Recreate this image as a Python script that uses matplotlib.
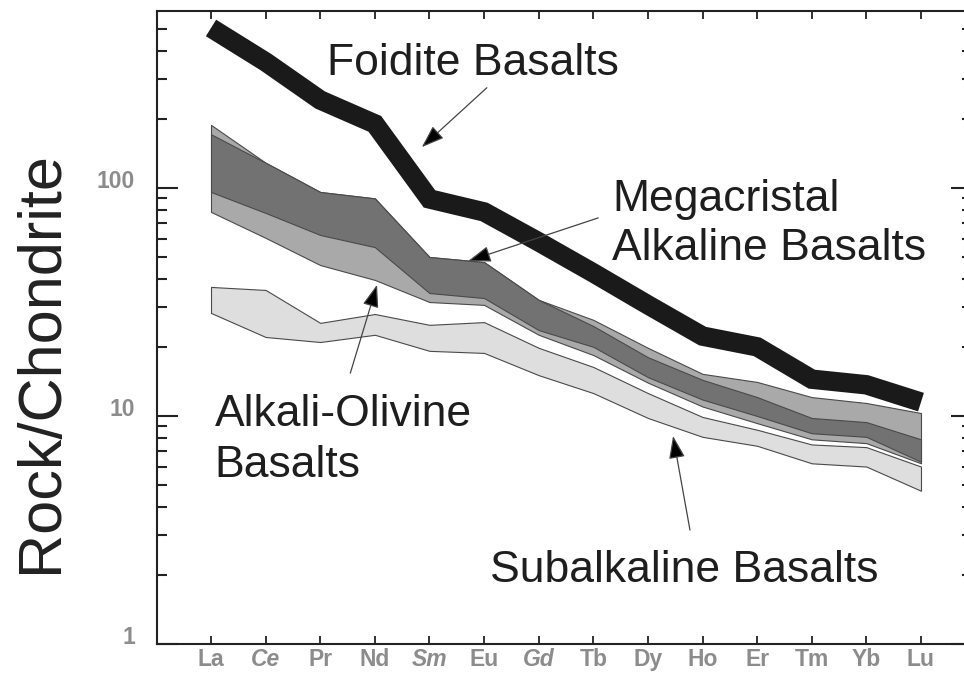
import numpy as np
import matplotlib.pyplot as plt
import matplotlib.transforms as mtransforms
from matplotlib.ticker import NullFormatter

plt.rcParams['font.family'] = ['Liberation Sans', 'DejaVu Sans']

# REE pattern, chondrite normalised
elements = ["La", "Ce", "Pr", "Nd", "Sm", "Eu", "Gd", "Tb", "Dy", "Ho", "Er", "Tm", "Yb", "Lu"]
italic_elements = ["Ce", "Sm", "Gd"]

foidite = [503, 357, 243, 191, 89.5, 78.5, 58, 42.4, 30.7, 22.4, 20.1, 14.5, 13.7, 11.5]

alkol_top = [189, 129, 96, 90, 49.8, 47.3, 32.3, 26.4, 19.9, 15.3, 14.1, 12.1, 11.4, 10.3]
alkol_bot = [78.5, 60.4, 45.9, 39.5, 31.6, 30.7, 22.7, 18.5, 14.0, 11.0, 9.3, 7.9, 7.6, 6.2]

mega_top = [172, 129, 96, 90, 49.8, 47.3, 32.3, 24.8, 18.1, 14.4, 12.1, 9.8, 9.4, 7.9]
mega_bot = [96, 77.7, 62.2, 55, 34.6, 32.9, 23.8, 20.1, 14.8, 11.8, 10.0, 8.4, 8.1, 6.3]

subalk_top = [36.8, 35.7, 25.6, 28, 25.1, 25.8, 19.9, 16.4, 12.6, 9.9, 8.7, 7.5, 7.3, 6.0]
subalk_bot = [28.3, 22.2, 21.1, 22.7, 19.3, 18.9, 15.1, 12.6, 9.8, 8.1, 7.4, 6.2, 6.0, 4.7]

x = np.arange(1, len(elements) + 1)

fig = plt.figure(figsize=(9.64, 6.77), dpi=100)
ax = fig.add_axes([157/964, 33/677, (972-157)/964, 633/677])

edge = '#4a4a4a'
ax.fill_between(x, subalk_bot, subalk_top, facecolor='#dedede', edgecolor=edge, linewidth=0.8)
ax.fill_between(x, alkol_bot, alkol_top, facecolor='#a9a9a9', edgecolor=edge, linewidth=0.8)
ax.fill_between(x, mega_bot, mega_top, facecolor='#727272', edgecolor=edge, linewidth=0.8)
ax.plot(x, foidite, color='#1a1a1a', lw=14, solid_capstyle='butt', solid_joinstyle='miter')

ax.set_yscale('log')
ax.set_xlim(0.011, 14.934)
ax.set_ylim(1, 597)

ax.set_xticks(x)
ax.set_xticklabels(elements)
ax.set_yticks([1, 10, 100])
ax.set_yticklabels(["1", "10", "100"])
ax.yaxis.set_minor_formatter(NullFormatter())

for lab in ax.get_xticklabels() + ax.get_yticklabels():
    lab.set_fontweight('bold')
    if lab.get_text() in italic_elements:
        lab.set_fontstyle('italic')

ax.tick_params(axis='x', direction='in', top=True, bottom=True, length=6, width=1.3,
               color='#222222', labelcolor='#8c8c8c', labelsize=16.5, pad=3)
ax.tick_params(axis='y', which='major', direction='in', left=True, right=True, length=15,
               width=1.5, color='#222222', labelcolor='#8c8c8c', labelsize=16.5, pad=16)
ax.tick_params(axis='y', which='minor', direction='in', left=True, right=True, length=7.5,
               width=1.5, color='#222222')

# y labels sit a bit above their ticks
offset = mtransforms.ScaledTranslation(0, 0.09, fig.dpi_scale_trans)
for lab in ax.get_yticklabels():
    lab.set_transform(lab.get_transform() + offset)

for s in ax.spines.values():
    s.set_linewidth(1.5)
    s.set_color('#222222')

fig.text(42/964, 1 - 362/677, "Rock/Chondrite", rotation=90, ha='center', va='center',
         fontsize=44, color='#222222')

# multi-line labels: baseline refers to the last line
txt = dict(fontsize=32, color='#1e1e1e', ha='left', va='baseline')
ax.text(3.12, 313, "Foidite Basalts", **txt)
ax.text(8.34, 48.3, "Megacristal\nAlkaline Basalts", linespacing=1.25, **txt)
ax.text(1.07, 5.40, "Alkali-Olivine\nBasalts", linespacing=1.3, **txt)
ax.text(6.11, 1.87, "Subalkaline Basalts", **txt)

arrow = dict(arrowstyle='-|>,head_length=0.7,head_width=0.25', fc='black', ec='#444444',
             lw=0.9, mutation_scale=20, shrinkA=0, shrinkB=0)
ax.annotate('', xy=(4.86, 151), xytext=(6.05, 275), arrowprops=arrow)
ax.annotate('', xy=(5.71, 47.8), xytext=(8.09, 73.9), arrowprops=arrow)
ax.annotate('', xy=(4.04, 37.6), xytext=(3.55, 15.4), arrowprops=arrow)
ax.annotate('', xy=(9.46, 8.17), xytext=(9.77, 3.16), arrowprops=arrow)

fig.savefig('out.png', dpi=100)
